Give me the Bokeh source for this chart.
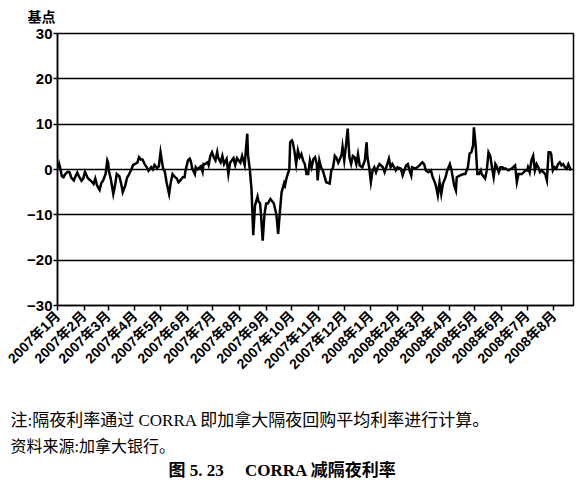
import numpy as np
import pandas as pd
from bokeh.plotting import figure
from bokeh.models import FixedTicker, CustomJSTickFormatter, Title, Range1d
from bokeh.embed import file_html
from bokeh.resources import INLINE

# ---- data ----
days_since_2007_01_01 = [
    1, 2, 3, 5, 7, 9, 12, 14, 16, 19, 21, 23, 25, 28, 30, 32, 35, 37, 39, 42,
    44, 46, 49, 51, 53, 56, 58, 59, 60, 62, 65, 67, 69, 72, 74, 76, 79, 81, 83, 86,
    88, 90, 93, 95, 97,
    99, 102, 104, 106, 109, 111, 113, 116, 118, 120, 123, 125, 127, 130, 132, 134, 137, 139, 141, 143,
    146, 148, 149, 152, 154, 155, 157, 160, 161, 163, 167, 169, 170, 172, 175, 176, 178, 180, 182, 184,
    186, 187, 190, 192, 194, 197,
    199, 201, 205, 207, 209, 213, 215, 218, 221, 222, 224, 226, 228, 230, 233, 234, 236, 237, 239, 241,
    243, 245, 248, 250, 252, 255, 257, 259, 261, 264, 265, 267, 270, 271, 273, 274, 276, 278, 280, 282,
    284, 286, 288, 290, 292, 294, 296, 298, 300, 302, 303, 305, 307, 309, 313, 317, 319, 321, 323, 325,
    327, 329, 331, 332, 334, 336, 338, 340, 342, 344, 346, 348, 350, 352, 355, 358, 360, 361, 363, 365,
    367, 369, 371, 373, 375, 379, 381, 383, 386, 388, 390, 394, 396, 400, 402, 406, 408, 410, 412, 413,
    417, 421, 425, 427, 429, 432, 435, 437, 440, 441, 443, 445, 447, 449, 452, 454, 457, 459, 462, 464,
    465, 469, 473, 475, 478, 480, 482, 484, 485, 487, 489, 491, 493, 494, 498, 500, 502, 504, 506, 508,
    510, 512, 514, 516, 518, 520, 522, 525, 529, 533, 535, 537, 541, 545, 547, 548, 550, 552, 554, 556,
    558, 560, 562, 564, 568, 570, 572, 574, 575, 577, 579, 581, 583, 585, 587, 589, 591, 593, 595, 598,
]
corra_minus_overnight_bp = [
    0.3, 1.2, 0.5, -1.5, -1.7, -1.0, -0.5, -0.6, -1.8, -2.4, -1.5, -0.7, -1.5, -2.5, -2.0, -0.5, -1.8, -2.2, -2.5, -3.2,
    -2.0, -3.5, -4.5, -3.0, -2.5, -1.0, 2.0, 1.5, -0.5, -2.0, -5.4, -3.5, -1.0, -1.5, -3.0, -5.0, -3.5, -1.8, -1.2, 0.0,
    1.0, 1.2, 1.5, 2.7, 2.2,
    2.2, 1.0, 0.5, -0.3, 0.5, 0.0, 1.0, 0.3, 0.7, 3.8, 0.2, -0.5, -2.8, -5.4, -2.8, -1.0, -1.7, -2.0, -2.8, -2.4,
    -1.7, -1.7, -0.3, 2.0, 2.4, 2.0, 0.2, -1.0, 0.5, 0.0, 0.7, -0.5, 1.2, 1.2, 1.6, 1.0, 3.0, 3.8, 2.7, 2.0,
    3.8, 2.7, 1.6, 3.0, 1.2, 2.3,
    -1.0, 1.5, 2.5, 1.0, 2.5, 1.5, 3.0, 1.0, 7.9, 3.0, 0.0, -4.5, -14.5, -8.0, -6.0, -7.0, -7.5, -10.0, -15.7, -10.0,
    -7.5, -7.5, -6.5, -7.0, -7.5, -10.0, -14.2, -9.4, -5.0, -3.0, -3.5, -1.7, 0.0, 6.0, 6.4, 6.0, 4.0, 1.2, 4.2, 2.7,
    3.4, 2.0, 1.2, -1.0, -1.0, 2.0, 0.5, 2.3, 2.7, 1.2, -2.4, 2.0, 0.5, -0.2, -2.8, -3.1, -0.2, 0.5, 3.0, 2.5,
    1.5, 2.3, 3.4, 5.0, 2.0, 5.3, 9.0, 2.7, 1.2, 3.0, 2.7, 1.2, 3.4, 0.9, 0.5, 2.0, 6.0, 2.7, 0.5, -2.8,
    -0.2, 0.5, -0.6, 0.5, 1.2, 0.5, -0.6, 0.5, 2.4, 0.5, 1.2, -0.2, 0.5, 0.2, -1.3, 0.9, 1.2, -0.2, -1.3, 0.5,
    0.2, 0.8, 1.6, 1.2, -0.2, -0.6, -0.2, -1.7, -3.1, -3.8, -5.7, -2.8, -5.4, -3.1, -1.7, -0.2, 1.2, -0.2, -3.5, -4.6,
    -1.7, -1.3, -1.0, -1.0, 0.5, 3.5, 3.8, 5.3, 9.3, 5.5, -1.0, -1.0, -0.2, -1.0, -2.0, -0.2, 3.8, 3.0, 0.5, -1.7,
    1.2, 0.5, -0.6, 0.5, 0.5, 0.2, 0.2, -0.2, 0.2, 0.9, -2.8, -1.0, -1.0, -0.2, -0.2, 0.5, -0.6, 2.0, 3.0, -0.2,
    1.2, 0.5, -0.6, -0.2, -1.0, -2.4, 3.8, 3.8, 3.4, -0.2, 0.5, 0.2, 1.2, 1.6, 0.9, 1.2, 0.5, 0.2, 1.2, -0.2,
]
month_starts = [
    "2007-01-01", "2007-02-01", "2007-03-01", "2007-04-01", "2007-05-01", "2007-06-01", "2007-07-01",
    "2007-08-01", "2007-09-01", "2007-10-01", "2007-11-01", "2007-12-01", "2008-01-01", "2008-02-01",
    "2008-03-01", "2008-04-01", "2008-05-01", "2008-06-01", "2008-07-01", "2008-08-01",
]
month_labels = [
    "2007年1月", "2007年2月", "2007年3月", "2007年4月", "2007年5月", "2007年6月", "2007年7月",
    "2007年8月", "2007年9月", "2007年10月", "2007年11月", "2007年12月", "2008年1月", "2008年2月",
    "2008年3月", "2008年4月", "2008年5月", "2008年6月", "2008年7月", "2008年8月",
]
y_ticks = [-30, -20, -10, 0, 10, 20, 30]
y_unit = "基点"
note_text = "注:隔夜利率通过 CORRA 即加拿大隔夜回购平均利率进行计算。"
source_text = "资料来源:加拿大银行。"
caption_text = "图 5. 23\u00a0\u00a0\u00a0\u00a0\u00a0CORRA 减隔夜利率"

n = min(len(days_since_2007_01_01), len(corra_minus_overnight_bp))
dates = pd.Timestamp("2007-01-01") + pd.to_timedelta(np.array(days_since_2007_01_01[:n]), unit="D")
values = corra_minus_overnight_bp[:n]
tick_ms = [float(pd.Timestamp(m).value // 10**6) for m in month_starts]

AX_FONT = "Liberation Sans, Noto Sans CJK SC"
TXT_FONT = "Liberation Serif, Noto Sans CJK SC"

p = figure(width=577, height=481, x_axis_type="datetime",
           output_backend="svg", toolbar_location=None,
           x_range=Range1d(pd.Timestamp("2007-01-01"), pd.Timestamp("2008-08-24")),
           y_range=Range1d(-30, 30),
           min_border_left=57, min_border_right=4, min_border_top=33, min_border_bottom=176)

p.line(dates, values, line_color="black", line_width=2.5, line_join="miter")

p.background_fill_color = "white"
p.border_fill_color = "white"
p.outline_line_color = "black"
p.outline_line_width = 1.5

p.xgrid.visible = False
p.ygrid.ticker = FixedTicker(ticks=y_ticks)
p.ygrid.grid_line_color = "black"
p.ygrid.grid_line_width = 1.5

p.xaxis.ticker = FixedTicker(ticks=tick_ms)
p.xaxis.formatter = CustomJSTickFormatter(args=dict(tick_vals=tick_ms, tick_labels=month_labels), code="""
let best = 0;
for (let i = 0; i < tick_vals.length; i++) {
  if (Math.abs(tick_vals[i] - tick) < Math.abs(tick_vals[best] - tick)) best = i;
}
return tick_labels[best];
""")
p.xaxis.major_label_orientation = np.pi / 4
p.xaxis.major_label_text_font = AX_FONT
p.xaxis.major_label_text_font_style = "bold"
p.xaxis.major_label_text_font_size = "14px"
p.xaxis.major_label_text_color = "black"
p.xaxis.major_label_standoff = 3
p.xaxis.major_tick_out = 5
p.xaxis.major_tick_in = 0
p.xaxis.minor_tick_line_color = None
p.xaxis.axis_line_color = "black"
p.xaxis.axis_line_width = 1.5
p.xaxis.major_tick_line_width = 1.5

p.yaxis.ticker = FixedTicker(ticks=y_ticks)
p.yaxis.major_label_text_font = AX_FONT
p.yaxis.major_label_text_font_style = "bold"
p.yaxis.major_label_text_font_size = "15px"
p.yaxis.major_label_text_color = "black"
p.yaxis.major_label_standoff = 1
p.yaxis.major_tick_out = 4
p.yaxis.major_tick_in = 0
p.yaxis.minor_tick_line_color = None
p.yaxis.axis_line_color = "black"
p.yaxis.axis_line_width = 1.5
p.yaxis.major_tick_line_width = 1.5

# unit label above the y axis
p.title = Title(text=y_unit, align="left", offset=-30, standoff=14, vertical_align="top",
                text_font=AX_FONT, text_font_style="bold", text_font_size="14px",
                text_color="black")

# notes and caption below the chart
p.add_layout(Title(text="\u00a0", align="left", offset=0, standoff=6, vertical_align="middle",
                   text_font=TXT_FONT, text_font_size="16px", text_color="white"), "below")
p.add_layout(Title(text=note_text, align="left", offset=-47, standoff=8, vertical_align="middle",
                   text_font=TXT_FONT, text_font_style="normal", text_font_size="17px",
                   text_color="black"), "below")
p.add_layout(Title(text=source_text, align="left", offset=-47, standoff=5, vertical_align="middle",
                   text_font=TXT_FONT, text_font_style="normal", text_font_size="16px",
                   text_color="black"), "below")
p.add_layout(Title(text=caption_text, align="left", offset=111, standoff=2, vertical_align="middle",
                   text_font=TXT_FONT, text_font_style="bold", text_font_size="17px",
                   text_color="black"), "below")

open("out.html", "w").write(file_html(p, INLINE))
